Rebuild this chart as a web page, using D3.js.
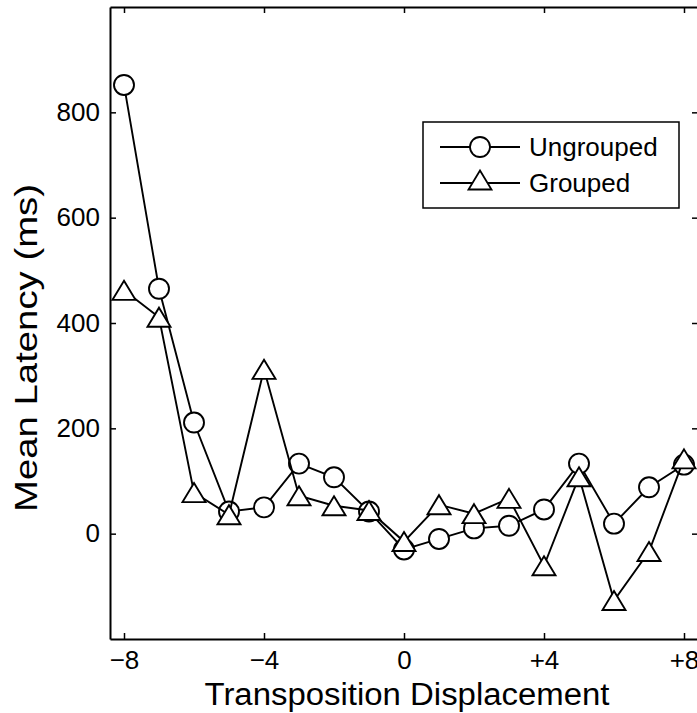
<!DOCTYPE html>
<html>
<head>
<meta charset="utf-8">
<script src="https://cdn.jsdelivr.net/npm/d3@7"></script>
<style>
html,body{margin:0;padding:0;background:#fff;}
svg{display:block;}
text{font-family:"Liberation Sans",Arial,Helvetica,sans-serif;fill:#000;}
</style>
</head>
<body>
<svg id="chart" width="697" height="713"></svg>
<script>
const displacement = [-8,-7,-6,-5,-4,-3,-2,-1,0,1,2,3,4,5,6,7,8];
const ungrouped = [852,465,211,42,50,133,107,42,-30,-10,10,15,46,133,19,88,131];
const grouped = [462,411,78,36,312,72,53,44,-15,55,38,67,-61,108,-127,-34,142];
const xTicks = [-8,-4,0,4,8];
const xTickLabels = ["\u22128","\u22124","0","+4","+8"];
const yTicks = [0,200,400,600,800];
const seriesNames = ["Ungrouped","Grouped"];

(function(){
const svg = d3.select("#chart");
const L = 110, R = 698, T = 7, B = 639;
const x = d3.scaleLinear().domain([-8.4, 8.4]).range([L, R]);
const y = d3.scaleLinear().domain([-200, 1000]).range([B, T]);

const fmtX = (d) => xTickLabels[xTicks.indexOf(d)];
const axB = svg.append("g").attr("transform", `translate(0,${B})`)
  .call(d3.axisBottom(x).tickValues(xTicks).tickFormat(fmtX).tickSizeInner(-6).tickSizeOuter(0).tickPadding(12));
const axT = svg.append("g").attr("transform", `translate(0,${T})`)
  .call(d3.axisTop(x).tickValues(xTicks).tickFormat("").tickSizeInner(-6).tickSizeOuter(0));
const axL = svg.append("g").attr("transform", `translate(${L},0)`)
  .call(d3.axisLeft(y).tickValues(yTicks).tickSizeInner(-6).tickSizeOuter(0).tickPadding(10));
const axR = svg.append("g").attr("transform", `translate(${R},0)`)
  .call(d3.axisRight(y).tickValues(yTicks).tickFormat("").tickSizeInner(-6).tickSizeOuter(0));

[axB, axT, axL, axR].forEach(g => {
  g.select(".domain").attr("stroke", "#000").attr("stroke-width", 2);
  g.selectAll(".tick line").attr("stroke", "#000").attr("stroke-width", 1.5);
  g.selectAll(".tick text").attr("font-size", 26).attr("font-family", '"Liberation Sans",Arial,sans-serif').attr("fill", "#000");
});
axB.selectAll(".tick text").attr("dy", "0.68em");

svg.append("text").attr("x", 407).attr("y", 705)
  .attr("text-anchor", "middle").attr("font-size", 31)
  .attr("textLength", 405).attr("lengthAdjust", "spacingAndGlyphs")
  .text("Transposition Displacement");
svg.append("text").attr("transform", `translate(37,348) rotate(-90)`)
  .attr("text-anchor", "middle").attr("font-size", 31)
  .attr("textLength", 328).attr("lengthAdjust", "spacingAndGlyphs")
  .text("Mean Latency (ms)");

const line = d3.line().x((d, i) => x(displacement[i])).y(d => y(d));
const triPath = (w, h) => `M0,${-h/2}L${w/2},${h/2}L${-w/2},${h/2}Z`;

function drawSeries(vals, marker) {
  const g = svg.append("g");
  g.append("path").datum(vals).attr("d", line)
    .attr("fill", "none").attr("stroke", "#000").attr("stroke-width", 1.9);
  const pts = g.selectAll(".m").data(vals).enter();
  if (marker === "circle") {
    pts.append("circle").attr("cx", (d, i) => x(displacement[i])).attr("cy", d => y(d))
      .attr("r", 10).attr("fill", "#fff").attr("stroke", "#000").attr("stroke-width", 1.9);
  } else {
    pts.append("path").attr("transform", (d, i) => `translate(${x(displacement[i])},${y(d)})`)
      .attr("d", triPath(23, 19)).attr("fill", "#fff").attr("stroke", "#000").attr("stroke-width", 1.9);
  }
}
drawSeries(ungrouped, "circle");
drawSeries(grouped, "triangle");

const lg = svg.append("g");
lg.append("rect").attr("x", 423).attr("y", 122).attr("width", 256).attr("height", 86)
  .attr("fill", "#fff").attr("stroke", "#000").attr("stroke-width", 1.5);
[0, 1].forEach(i => {
  const cy = 147 + i * 36;
  lg.append("line").attr("x1", 440).attr("x2", 520).attr("y1", cy).attr("y2", cy)
    .attr("stroke", "#000").attr("stroke-width", 1.8);
  if (i === 0) {
    lg.append("circle").attr("cx", 480).attr("cy", cy).attr("r", 10)
      .attr("fill", "#fff").attr("stroke", "#000").attr("stroke-width", 1.8);
  } else {
    lg.append("path").attr("transform", `translate(480,${cy - 3})`).attr("d", triPath(23, 19))
      .attr("fill", "#fff").attr("stroke", "#000").attr("stroke-width", 1.8);
  }
  lg.append("text").attr("x", 529).attr("y", cy + 9).attr("font-size", 26).text(seriesNames[i]);
});
})();
</script>
</body>
</html>
